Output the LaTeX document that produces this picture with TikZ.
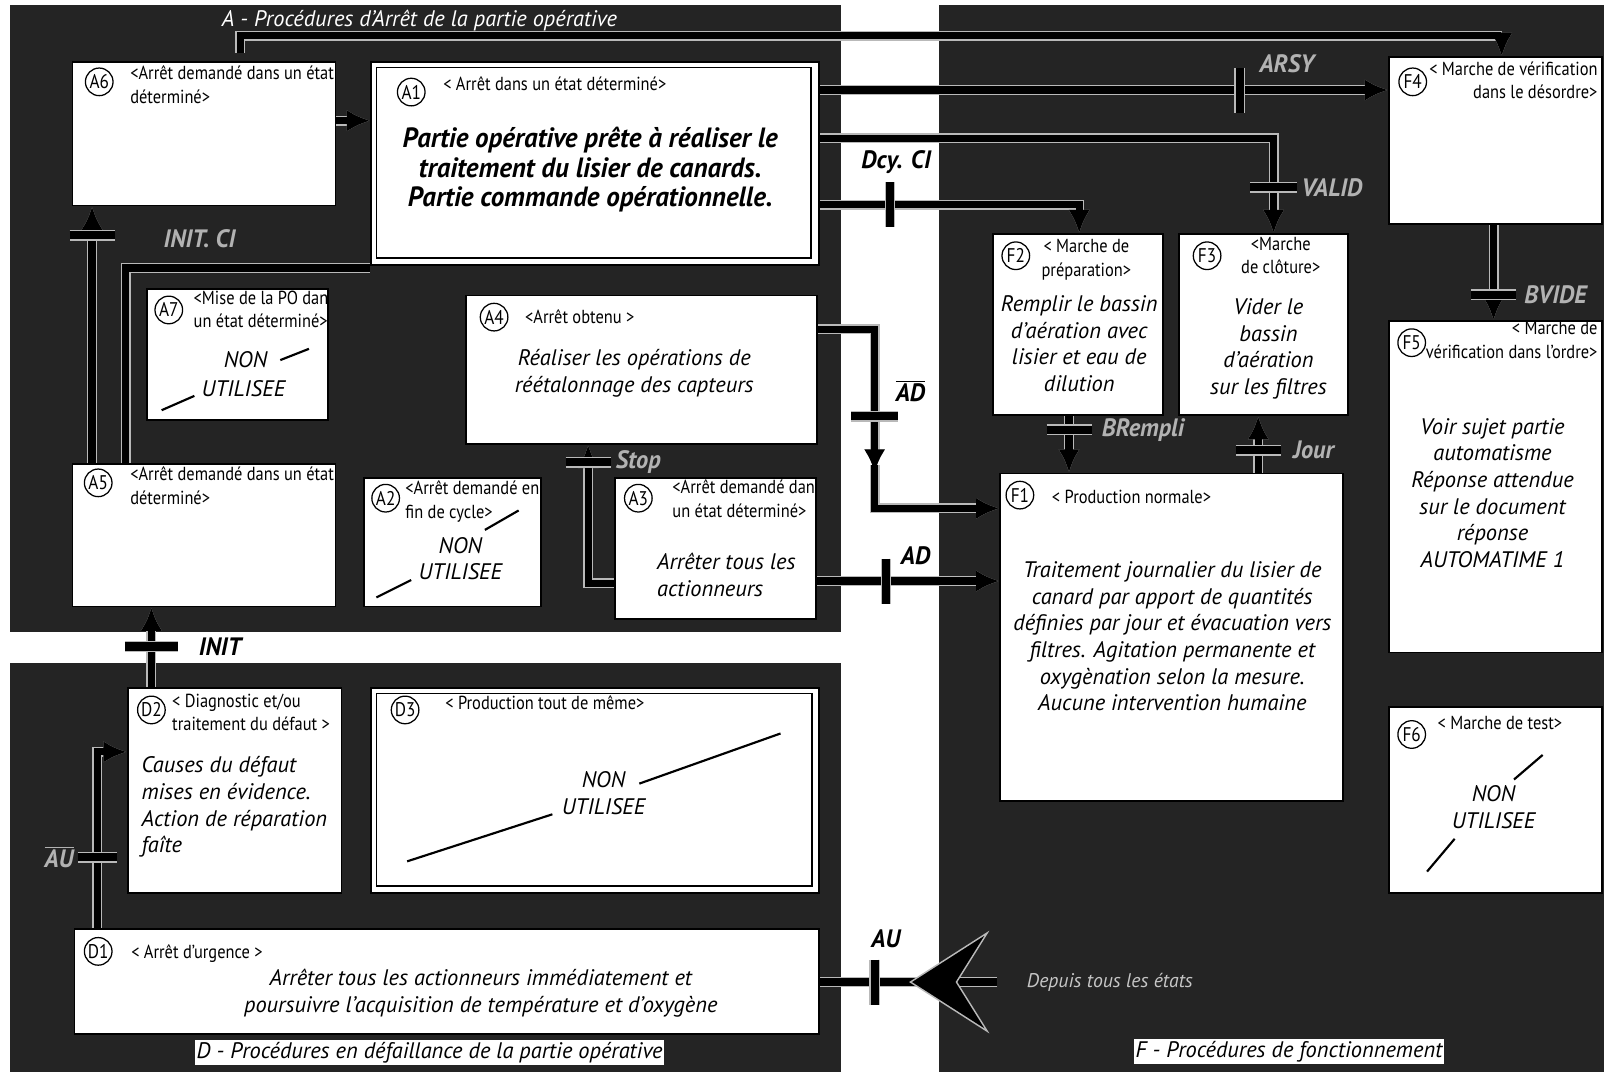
\documentclass[tikz,border=0pt]{standalone}
\usepackage{fontspec}
\setmainfont[UprightFeatures={FakeStretch=0.87}, ItalicFeatures={FakeStretch=1.0},
  BoldFeatures={FakeStretch=0.87}, BoldItalicFeatures={FakeStretch=0.97}]{PT Sans}
\usetikzlibrary{arrows.meta}
\tikzset{
  zone/.style = {fill=black!86},
  boite/.style = {draw=black, line width=1pt, fill=white, anchor=north west,
    inner sep=0pt},
  etape/.style = {circle, draw=black, line width=0.7pt, inner sep=0pt,
    minimum size=0.54cm, font=\fontsize{11}{12}\selectfont},
  entete/.style = {font=\fontsize{10.5}{13}\selectfont, align=left,
    inner sep=0pt},% < nom de l'etat >
  texte/.style = {font=\fontsize{12.5}{14.8}\selectfont\itshape, align=center,
    inner sep=0pt},
  gras/.style = {font=\fontsize{15.5}{16.5}\selectfont\bfseries\itshape,
    align=center, inner sep=0pt},
  liaison/.style = {line width=4pt, black, preaction={draw=gray!55,
    line width=5.6pt}},
  trans/.style = {line width=4.5pt, black, preaction={draw=gray!55,
    line width=6pt}},% barre de transition
  recep/.style = {font=\fontsize{14}{16}\selectfont\bfseries\itshape,
    inner sep=1pt},% receptivite
  recepz/.style = {recep, text=gray!60},% receptivite en zone sombre
  barre/.style = {line width=1.2pt},% barre du NON UTILISEE
  titre/.style = {font=\fontsize{12.5}{14}\selectfont\itshape, fill=white,
    inner sep=1pt},
}
\newcommand\boite[5]{\node[boite, minimum width=#4*0.02cm,
  minimum height=#5*0.02cm] (#1) at (#2,#3) {};}

\begin{document}
\begin{tikzpicture}[x=0.02cm, y=-0.02cm, >={Latex[length=13pt,width=12pt]}]
\useasboundingbox (0,0) rectangle (1568,1049);
% les trois zones
\fill[zone] (10,5) rectangle (822,618);
\fill[zone] (10,648) rectangle (822,1048);
\fill[zone] (918,5) rectangle (1568,1048);
\node[font=\fontsize{12.5}{14}\selectfont\itshape, text=white] (tA) at (410,20)
  {A - Procédures d'Arrêt de la partie opérative};
\node[titre] (tD) at (420,1029) {D - Procédures en défaillance de la partie opérative};
\node[titre] (tF) at (1260,1028) {F - Procédures de fonctionnement};

% zone A
\boite{A6}{70}{60}{257}{140}
\boite{A1}{362}{60}{438}{198}
\draw[line width=1pt] (368,66) rectangle (793,252);
\boite{A7}{143}{282}{177}{128}
\boite{A4}{455}{288}{343}{145}
\boite{A5}{70}{453}{257}{139}
\boite{A2}{355}{466}{173}{126}
\boite{A3}{600}{466}{197}{138}

\node[etape] (cA6) at (97,80) {A6};
\node[entete, anchor=north west] (hA6) at (127,64) {<Arrêt demandé dans un état\\déterminé>};
\node[etape] (cA1) at (402,90) {A1};
\node[entete, anchor=west] (hA1) at (433,82) {< Arrêt dans un état déterminé>};
\node[gras] (xA1) at (577,166) {Partie opérative prête à réaliser le\\traitement du lisier de canards.\\Partie commande opérationnelle.};
\node[etape] (cA7) at (165,303) {A7};
\node[entete, anchor=north west] (hA7) at (189,284) {<Mise de la PO dan\\un état déterminé>};
\node[texte] (nA7) at (240,352) {NON};
\node[texte] (uA7) at (238,380) {UTILISEE};
\draw[barre] (274,352) -- (302,341);
\draw[barre] (158,401) -- (190,387);
\node[etape] (cA4) at (483,310) {A4};
\node[entete, anchor=west] (hA4) at (513,310) {<Arrêt obtenu >};
\node[texte] (xA4) at (620,365) {Réaliser les opérations de\\réétalonnage des capteurs};
\node[etape] (cA5) at (96,472) {A5};
\node[entete, anchor=north west] (hA5) at (127,456) {<Arrêt demandé dans un état\\déterminé>};
\node[etape] (cA2) at (377,487) {A2};
\node[entete, anchor=north west] (hA2) at (396,470) {<Arrêt demandé en\\fin de cycle>};
\node[texte] (nA2) at (450,533) {NON};
\node[texte] (uA2) at (450,559) {UTILISEE};
\draw[barre] (474,518) -- (507,499);
\draw[barre] (368,584) -- (402,567);
\node[etape] (cA3) at (624,487) {A3};
\node[entete, anchor=north west] (hA3) at (657,469) {<Arrêt demandé dan\\un état déterminé>};
\node[texte, align=left, anchor=west] (xA3) at (642,562) {Arrêter tous les\\actionneurs};

% zone D
\boite{D2}{124}{672}{209}{200}
\boite{D3}{362}{672}{438}{200}
\draw[line width=1pt] (368,678) rectangle (794,866);
\boite{D1}{72}{907}{728}{103}

\node[etape] (cD2) at (148,694) {D2};
\node[entete, anchor=north west] (hD2) at (168,678) {< Diagnostic et/ou\\traitement du défaut >};
\node[texte, align=left, anchor=west] (xD2) at (138,789) {Causes du défaut\\mises en évidence.\\Action de réparation\\faîte};
\node[etape] (cD3) at (396,694) {D3};
\node[entete, anchor=west] (hD3) at (435,687) {< Production tout de même>};
\node[texte] (nD3) at (590,762) {NON};
\node[texte] (uD3) at (590,789) {UTILISEE};
\draw[barre] (398,842) -- (540,796);
\draw[barre] (625,766) -- (763,717);
\node[etape] (cD1) at (96,930) {D1};
\node[entete, anchor=west] (hD1) at (128,932) {< Arrêt d'urgence >};
\node[texte] (xD1) at (470,971) {Arrêter tous les actionneurs immédiatement et\\poursuivre l'acquisition de température et d'oxygène};

% zone F
\boite{F4}{1357}{55}{208}{163}
\boite{F2}{970}{228}{166}{177}
\boite{F3}{1152}{228}{165}{177}
\boite{F5}{1357}{313}{208}{324}
\boite{F1}{977}{462}{335}{320}
\boite{F6}{1357}{690}{208}{182}

\node[etape] (cF4) at (1381,80) {F4};
\node[entete, align=right, anchor=north east] (hF4) at (1562,60) {< Marche de vérification\\dans le désordre>};
\node[etape] (cF2) at (993,250) {F2};
\node[entete, align=center] (hF2) at (1062,254) {< Marche de\\préparation>};
\node[texte] (xF2) at (1055,336) {Remplir le bassin\\d'aération avec\\lisier et eau de\\dilution};
\node[etape] (cF3) at (1180,250) {F3};
\node[entete, align=center] (hF3) at (1252,250) {<Marche\\de clôture>};
\node[texte] (xF3) at (1240,341) {Vider le\\bassin\\d'aération\\sur les filtres};
\node[etape] (cF5) at (1380,335) {F5};
\node[entete, align=right, anchor=north east] (hF5) at (1562,314) {< Marche de\\vérification dans l'ordre>};
\node[texte] (xF5) at (1459,482) {Voir sujet partie\\automatisme\\Réponse attendue\\sur le document\\réponse\\AUTOMATIME 1};
\node[etape] (cF1) at (997,484) {F1};
\node[entete, anchor=west] (hF1) at (1028,486) {< Production normale>};
\node[texte] (xF1) at (1146,622) {Traitement journalier du lisier de\\canard par apport de quantités\\définies par jour et évacuation vers\\filtres. Agitation permanente et\\oxygènation selon la mesure.\\Aucune intervention humaine};
\node[etape] (cF6) at (1380,718) {F6};
\node[entete, anchor=west] (hF6) at (1405,707) {< Marche de test>};
\node[texte] (nF6) at (1460,776) {NON};
\node[texte] (uF6) at (1460,802) {UTILISEE};
\draw[barre] (1480,762) -- (1508,738);
\draw[barre] (1395,852) -- (1422,820);

% liaisons dans la zone A
\draw[liaison, ->] (A6.east |- 0,118) -- (A1.west |- 0,118);
\draw[liaison, ->] (A5.north -| 90,0) -- (A6.south -| 90,0);
\draw[trans] (68,230) -- (112,230);
\node[recepz] (rINITCI) at (195,233) {INIT. CI};
\draw[liaison] (A5.north -| 123,0) -- (123,262) -- (A1.south west |- 0,262);
\draw[liaison, ->] (A3.west |- 0,570) -- (575,570) -- (A4.south -| 575,0);
\draw[trans] (553,452) -- (597,452);
\node[recepz, anchor=west] (rStop) at (600,452) {Stop};

% liaisons entre les zones
\coordinate (dep) at (235,52);
\draw[liaison, ->] (dep) -- (235,35) -- (1468,35) -- (F4.north -| 1468,0);
\draw[liaison, ->] (A1.east |- 0,88) -- (F4.west |- 0,88);
\draw[trans] (1212,66) -- (1212,110);
\node[recepz] (rARSY) at (1258,62) {ARSY};
\draw[liaison, ->] (A1.east |- 0,135) -- (1245,135) -- (F3.north -| 1245,0);
\draw[trans] (1222,183) -- (1268,183);
\node[recepz] (rVALID) at (1302,183) {VALID};
\draw[liaison, ->] (A1.east |- 0,200) -- (1055,200) -- (F2.north -| 1055,0);
\draw[trans] (870,178) -- (870,222);
\node[recep] (rDcy) at (876,158) {Dcy. CI};
\draw[liaison, ->] (A4.east |- 0,322) -- (855,322) -- (855,462);
\draw[liaison, ->] (855,455) -- (855,497) -- (F1.west |- 0,497);
\draw[trans] (832,407) -- (878,407);
\node[recep] (rADb) at (890,382) {$\overline{\mbox{AD}}$};
\draw[liaison, ->] (A3.east |- 0,568) -- (F1.west |- 0,568);
\draw[trans] (866,546) -- (866,590);
\node[recep] (rAD) at (895,543) {AD};
\coordinate (tous) at (975,960);
\draw[liaison] (tous) -- (D1.east |- 0,960);
\filldraw[draw=gray!55, line width=0.8pt, fill=black] (890,960) -- (965,912) -- (935,960) -- (965,1008) -- cycle;
\draw[trans] (855,938) -- (855,982);
\node[recep] (rAU) at (866,918) {AU};
\node[font=\fontsize{11}{13}\selectfont\itshape, text=gray!45] (rTous) at (1085,960) {Depuis tous les états};
\draw[liaison, ->] (D2.north -| 148,0) -- (A5.south -| 148,0);
\draw[trans] (122,632) -- (174,632);
\node[recep] (rINIT) at (215,632) {INIT};

% liaisons dans la zone D
\draw[liaison, ->] (D1.north -| 95,0) -- (95,735) -- (D2.west |- 0,735);
\draw[trans] (76,838) -- (114,838);
\node[recepz, anchor=east] (rAUb) at (74,838) {$\overline{\mbox{AU}}$};

% liaisons dans la zone F
\draw[liaison, ->] (F2.south -| 1045,0) -- (F1.north -| 1045,0);
\draw[trans] (1023,420) -- (1067,420);
\node[recepz, anchor=west] (rRempli) at (1075,420) {BRempli};
\draw[liaison, ->] (F1.north -| 1230,0) -- (F3.south -| 1230,0);
\draw[trans] (1208,440) -- (1252,440);
\node[recepz, anchor=west] (rJour) at (1262,440) {Jour};
\draw[liaison, ->] (F4.south -| 1460,0) -- (F5.north -| 1460,0);
\draw[trans] (1438,288) -- (1482,288);
\node[recepz, anchor=west] (rVIDE) at (1488,288) {BVIDE};
\end{tikzpicture}
\end{document}
